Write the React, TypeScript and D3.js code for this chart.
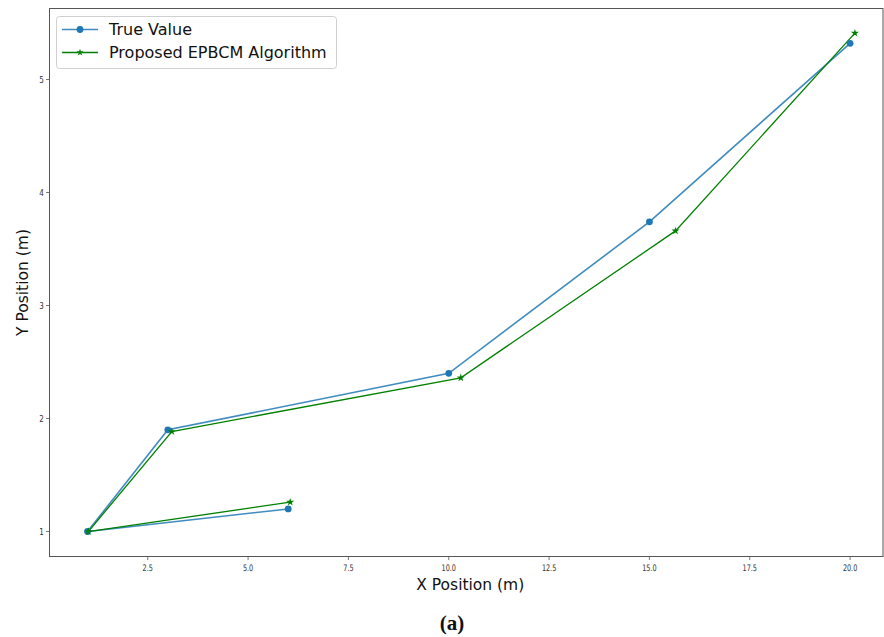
import React from "react";
import * as d3 from "d3";

const trueX = [6, 1, 3, 10, 15, 20];
const trueY = [1.2, 1.0, 1.9, 2.4, 3.74, 5.32];
const estX = [6.05, 1.02, 3.1, 10.3, 15.65, 20.12];
const estY = [1.26, 1.0, 1.885, 2.36, 3.66, 5.41];
const xTicks = [2.5, 5.0, 7.5, 10.0, 12.5, 15.0, 17.5, 20.0];
const yTicks = [1, 2, 3, 4, 5];
const seriesNames = ["True Value", "Proposed EPBCM Algorithm"];

const W = 884;
const H = 637;
const L = 49.5, R = 883, T = 8.5, B = 556.5;

export default function App() {
  const x = d3.scaleLinear().domain([0.052, 20.82]).range([L, R]);
  const y = d3.scaleLinear().domain([0.779, 5.628]).range([B, T]);
  const line = d3.line<[number, number]>().x((d) => x(d[0])).y((d) => y(d[1]));
  const tPts: [number, number][] = trueX.map((v, i) => [v, trueY[i]]);
  const ePts: [number, number][] = estX.map((v, i) => [v, estY[i]]);
  const star = d3.symbol().type(d3.symbolStar).size(20)() as string;
  const starL = d3.symbol().type(d3.symbolStar).size(16)() as string;
  const blue = "#1f77b4";
  const green = "#008000";
  const font = "DejaVu Sans, sans-serif";
  return (
    <svg width={W} height={H} style={{ position: "absolute", left: 0, top: 0, background: "#fff" }}>
      <rect x={0} y={0} width={W} height={H} fill="#fff" />
      {xTicks.map((t) => (
        <g key={"x" + t} transform={`translate(${x(t)},${B})`}>
          <line y1={0} y2={3.5} stroke="#555" strokeWidth={0.8} />
          <text y={14.5} textAnchor="middle" fontFamily={font} fontSize={9} fill="#333" transform="scale(0.72,1)">
            {t.toFixed(1)}
          </text>
        </g>
      ))}
      {yTicks.map((t) => (
        <g key={"y" + t} transform={`translate(${L},${y(t)})`}>
          <line x1={-3.5} x2={0} stroke="#555" strokeWidth={0.8} />
          <text x={-7} dy="0.35em" textAnchor="end" fontFamily={font} fontSize={9} fill="#333" transform="scale(0.8,1)">
            {t}
          </text>
        </g>
      ))}
      <path d={line(tPts) as string} fill="none" stroke={blue} strokeOpacity={0.85} strokeWidth={1.6} />
      <path d={line(ePts) as string} fill="none" stroke={green} strokeWidth={1.3} />
      {tPts.map((p, i) => (
        <circle key={"c" + i} cx={x(p[0])} cy={y(p[1])} r={3.4} fill={blue} />
      ))}
      {ePts.map((p, i) => (
        <path key={"s" + i} d={star} transform={`translate(${x(p[0])},${y(p[1])})`} fill={green} />
      ))}
      <rect x={L} y={T} width={R - L} height={B - T} fill="none" stroke="#555" strokeWidth={1} />
      <text x={(L + R) / 2 + 4} y={590} textAnchor="middle" fontFamily={font} fontSize={15.5} fill="#111">
        X Position (m)
      </text>
      <text
        transform={`translate(28,${(T + B) / 2}) rotate(-90)`}
        textAnchor="middle"
        fontFamily={font}
        fontSize={15.5}
        fill="#111"
      >
        Y Position (m)
      </text>
      <g>
        <rect x={56.5} y={16.5} width={280} height={52} rx={3} fill="#fff" fillOpacity={0.85} stroke="#d0d0d0" />
        <line x1={62} x2={98} y1={29.5} y2={29.5} stroke={blue} strokeOpacity={0.85} strokeWidth={1.6} />
        <circle cx={80} cy={29.5} r={3.4} fill={blue} />
        <text x={109} y={35} fontFamily={font} fontSize={16} fill="#111">{seriesNames[0]}</text>
        <line x1={62} x2={98} y1={52.5} y2={52.5} stroke={green} strokeWidth={1.3} />
        <path d={starL} transform="translate(80,52.5)" fill={green} />
        <text x={109} y={58} fontFamily={font} fontSize={16} fill="#111">{seriesNames[1]}</text>
      </g>
      <text x={452} y={630} textAnchor="middle" fontFamily="Liberation Serif, serif" fontWeight="bold" fontSize={21} fill="#111">
        (a)
      </text>
    </svg>
  );
}
